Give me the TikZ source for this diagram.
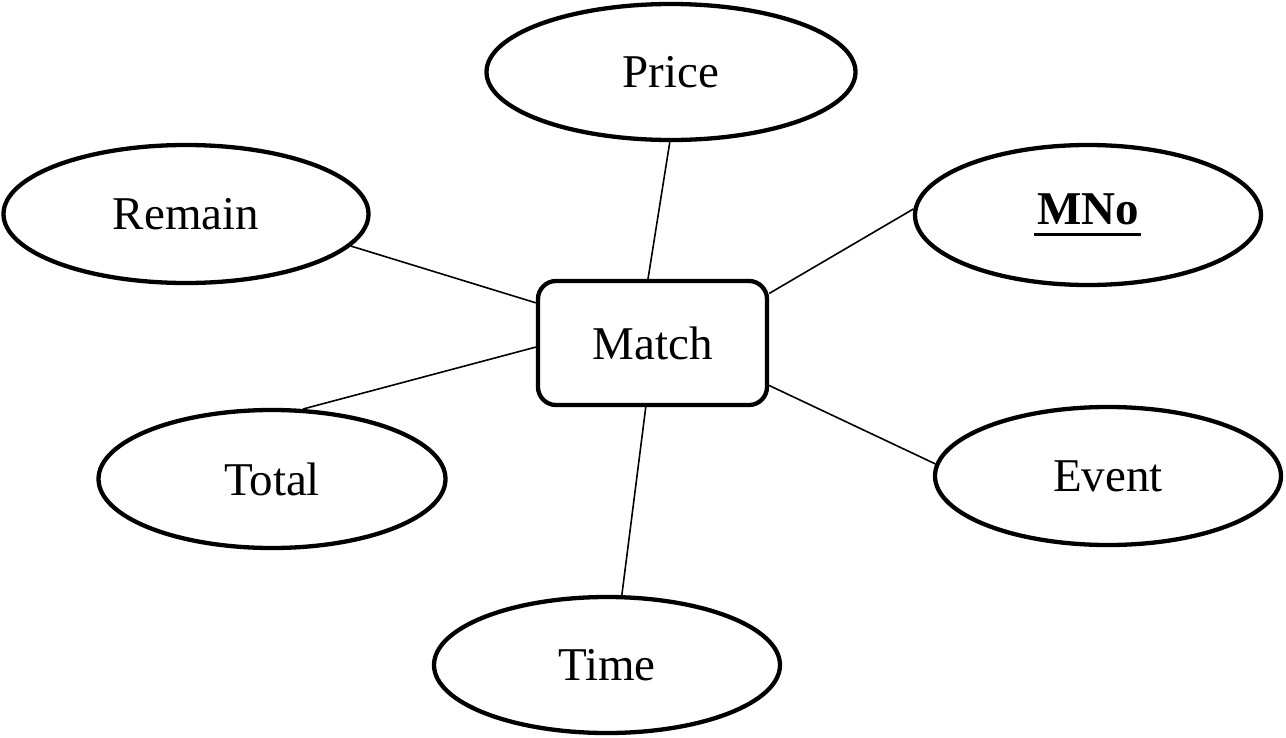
\documentclass[tikz,border=0pt]{standalone}
\usepackage{fontspec}
\setmainfont{Liberation Serif}
\usetikzlibrary{shapes.geometric}
\newcommand\myul[1]{\setbox0\hbox{#1}\rlap{\kern-3pt\vrule width \dimexpr\wd0+5pt\relax height -8pt depth 11.5pt}\box0}
\tikzset{
  attr/.style={draw, ellipse, line width=4.3pt, inner sep=0pt, fill=white,
    font=\fontsize{47}{56}\selectfont},
  ent/.style={draw, rectangle, rounded corners=18pt, line width=4.3pt, inner sep=0pt,
    minimum width=229pt, minimum height=124pt, fill=white,
    font=\fontsize{47}{56}\selectfont},
  conn/.style={line width=1.6pt}
}
\begin{document}
\begin{tikzpicture}[x=1pt,y=-1pt]
\useasboundingbox (0,0) rectangle (1286,737);
\node[ent] (m) at (652.5,343) {Match};
\node[attr, minimum width=369pt, minimum height=136pt] (price) at (671,72) {Price};
\node[attr, minimum width=365pt, minimum height=138pt] (remain) at (186,214) {Remain};
\node[attr, minimum width=346pt, minimum height=140pt] (mno) at (1088,215) {\bfseries\myul{MNo}};
\node[attr, minimum width=347pt, minimum height=138pt] (total) at (272,479) {Total};
\node[attr, minimum width=346pt, minimum height=138pt] (event) at (1108,476) {Event};
\node[attr, minimum width=346pt, minimum height=136pt] (time) at (607,665) {Time};
\draw[conn] (m.94.8) -- (price.269.2);
\draw[conn] (m.161.6) -- (remain.349.8);
\draw[conn] (m.182.9) -- (total.66.4);
\draw[conn] (m.23) -- (mno.178.7);
\draw[conn] (m.340) -- (event.176.4);
\draw[conn] (m.264.2) -- (time.78.2);
\end{tikzpicture}
\end{document}
